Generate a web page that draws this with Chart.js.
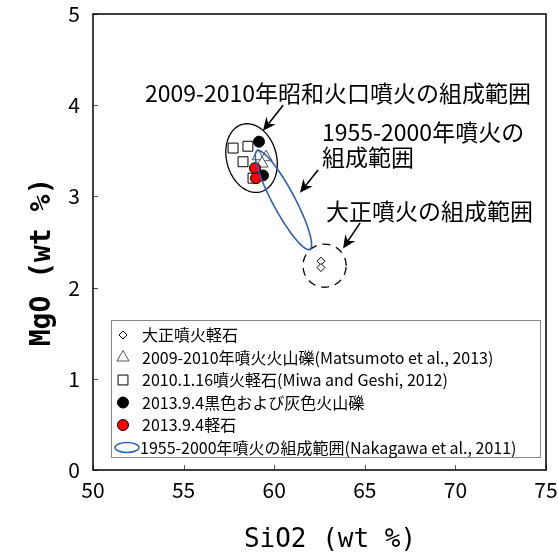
<!DOCTYPE html>
<html>
<head>
<meta charset="utf-8">
<script src="https://cdn.jsdelivr.net/npm/chart.js@4.4.0/dist/chart.umd.min.js"></script>
<style>
  html, body { margin: 0; padding: 0; background: #fff; }
</style>
</head>
<body>
<canvas id="chart" width="558" height="559"></canvas>
<script>
// SiO2 / MgO (wt %)
const taishoPumice = [{x: 62.58, y: 2.29}, {x: 62.58, y: 2.22}];
const scoria2009 = [{x: 59.11, y: 3.44}, {x: 59.55, y: 3.43}, {x: 59.33, y: 3.36}];
const pumice2010 = [{x: 57.73, y: 3.53}, {x: 58.55, y: 3.55}, {x: 58.28, y: 3.38}, {x: 58.83, y: 3.20}];
const scoria2013 = [{x: 59.16, y: 3.60}, {x: 59.38, y: 3.23}];
const pumice2013 = [{x: 58.94, y: 3.31}, {x: 59.00, y: 3.20}];

const xTicks = [50, 55, 60, 65, 70, 75];
const yTicks = [0, 1, 2, 3, 4, 5];

// composition ranges: centre and two half-axes, in data units
const showaRange = {cx: 58.75, cy: 3.42, a: [-0.50, 0.37], b: [1.33, 0.07]};
const range1955 = {cx: 60.51, cy: 2.96, a: [1.46, -0.54], b: [0.53, 0.06]};
const taishoRange = {cx: 62.78, cy: 2.24, a: [1.19, 0], b: [0, 0.236]};

const legendLabels = [
    '大正噴火軽石',
    '2009-2010年噴火火山礫(Matsumoto et al., 2013)',
    '2010.1.16噴火軽石(Miwa and Geshi, 2012)',
    '2013.9.4黒色および灰色火山礫',
    '2013.9.4軽石',
    '1955-2000年噴火の組成範囲(Nakagawa et al., 2011)'
];

const jp = '"Noto Sans CJK JP", sans-serif';
const blue = '#2f5fb3';

function ellipsePath(ctx, x, y, r) {
    const cx = x.getPixelForValue(r.cx), cy = y.getPixelForValue(r.cy);
    const ax = x.getPixelForValue(r.cx + r.a[0]) - cx, ay = y.getPixelForValue(r.cy + r.a[1]) - cy;
    const bx = x.getPixelForValue(r.cx + r.b[0]) - cx, by = y.getPixelForValue(r.cy + r.b[1]) - cy;
    ctx.beginPath();
    for (let i = 0; i <= 120; i++) {
        const t = i / 120 * Math.PI * 2;
        const px = cx + Math.cos(t) * ax + Math.sin(t) * bx;
        const py = cy + Math.cos(t) * ay + Math.sin(t) * by;
        if (i === 0) ctx.moveTo(px, py); else ctx.lineTo(px, py);
    }
    ctx.closePath();
}

function arrow(ctx, x1, y1, x2, y2) {
    const ang = Math.atan2(y2 - y1, x2 - x1);
    const len = 13, half = 6, notch = 9;
    ctx.beginPath();
    ctx.moveTo(x1, y1);
    ctx.lineTo(x2 - Math.cos(ang) * notch, y2 - Math.sin(ang) * notch);
    ctx.stroke();
    ctx.beginPath();
    ctx.moveTo(x2, y2);
    ctx.lineTo(x2 - Math.cos(ang) * len - Math.sin(ang) * half, y2 - Math.sin(ang) * len + Math.cos(ang) * half);
    ctx.lineTo(x2 - Math.cos(ang) * notch, y2 - Math.sin(ang) * notch);
    ctx.lineTo(x2 - Math.cos(ang) * len + Math.sin(ang) * half, y2 - Math.sin(ang) * len - Math.cos(ang) * half);
    ctx.closePath();
    ctx.fill();
}

const overlay = {
    id: 'overlay',
    afterDatasetsDraw(chart) {
        const {ctx, chartArea: area, scales: {x, y}} = chart;
        ctx.save();

        // inward tick marks
        ctx.strokeStyle = '#555';
        ctx.lineWidth = 1;
        x.ticks.forEach(t => {
            const p = Math.round(x.getPixelForValue(t.value)) + 0.5;
            ctx.beginPath(); ctx.moveTo(p, area.bottom); ctx.lineTo(p, area.bottom - 5); ctx.stroke();
        });
        y.ticks.forEach(t => {
            const p = Math.round(y.getPixelForValue(t.value)) + 0.5;
            ctx.beginPath(); ctx.moveTo(area.left, p); ctx.lineTo(area.left + 5, p); ctx.stroke();
        });

        // composition ranges
        ctx.lineWidth = 1.3;
        ctx.strokeStyle = '#000';
        ellipsePath(ctx, x, y, showaRange); ctx.stroke();
        ctx.setLineDash([8, 6]);
        ellipsePath(ctx, x, y, taishoRange); ctx.stroke();
        ctx.setLineDash([]);
        ctx.strokeStyle = blue;
        ctx.lineWidth = 1.6;
        ellipsePath(ctx, x, y, range1955); ctx.stroke();

        // arrows
        ctx.strokeStyle = '#000';
        ctx.fillStyle = '#000';
        ctx.lineWidth = 1.6;
        const P = (a, b) => [x.getPixelForValue(a), y.getPixelForValue(b)];
        arrow(ctx, ...P(60.49, 4.00), ...P(59.38, 3.72));
        arrow(ctx, ...P(62.42, 3.29), ...P(61.42, 3.04));
        arrow(ctx, ...P(64.74, 2.71), ...P(63.80, 2.43));

        // annotations
        ctx.font = '23px ' + jp;
        ctx.textBaseline = 'middle';
        ctx.textAlign = 'left';
        ctx.fillText('2009-2010年昭和火口噴火の組成範囲', ...P(52.87, 4.13));
        ctx.fillText('1955-2000年噴火の', ...P(62.64, 3.70));
        ctx.fillText('組成範囲', ...P(62.64, 3.43));
        ctx.fillText('大正噴火の組成範囲', ...P(62.86, 2.84));

        // legend box
        const lx = area.left + 18, ly = area.top + 306, lw = 429, lh = 137;
        ctx.fillStyle = '#fff';
        ctx.fillRect(lx, ly, lw, lh);
        ctx.strokeStyle = '#888';
        ctx.lineWidth = 1;
        ctx.strokeRect(lx + 0.5, ly + 0.5, lw, lh);
        ctx.font = '16px ' + jp;
        chart.data.datasets.forEach((ds, i) => {
            const ry = ly + 15 + i * 22.5;
            ctx.fillStyle = ds.backgroundColor;
            ctx.strokeStyle = ds.borderColor;
            ctx.lineWidth = ds.borderWidth;
            Chart.helpers.drawPoint(ctx, {pointStyle: ds.pointStyle, radius: ds.pointRadius, rotation: 0, borderWidth: ds.borderWidth}, lx + 12, ry);
            ctx.fillStyle = '#000';
            ctx.fillText(legendLabels[i], lx + 31, ry);
        });
        const ry = ly + 15 + 5 * 22.5;
        ctx.strokeStyle = blue;
        ctx.lineWidth = 1.5;
        ctx.beginPath();
        ctx.ellipse(lx + 16, ry, 12, 5, 0, 0, Math.PI * 2);
        ctx.stroke();
        ctx.fillStyle = '#000';
        ctx.fillText(legendLabels[5], lx + 29, ry);

        // frame
        ctx.strokeStyle = '#000';
        ctx.lineWidth = 1.5;
        ctx.strokeRect(area.left, area.top, area.right - area.left, area.bottom - area.top);

        // axis titles
        ctx.fillStyle = '#000';
        ctx.textAlign = 'center';
        ctx.font = '26px "DejaVu Sans Mono", monospace';
        ctx.fillText('SiO2 (wt %)', 330, 540);
        ctx.translate(43, 262);
        ctx.rotate(-Math.PI / 2);
        ctx.font = 'bold 28px "DejaVu Sans Mono", monospace';
        ctx.fillText('MgO (wt %)', 0, 0);
        ctx.restore();
    }
};

const hiddenGrid = len => ({display: true, drawOnChartArea: false, drawTicks: true, tickLength: len, color: 'rgba(0,0,0,0)'});

new Chart(document.getElementById('chart').getContext('2d'), {
    type: 'scatter',
    data: {
        datasets: [
            {label: legendLabels[0], data: taishoPumice, pointStyle: 'rectRot', pointRadius: 4, backgroundColor: '#fff', borderColor: '#000', borderWidth: 1, order: 4},
            {label: legendLabels[1], data: scoria2009, pointStyle: 'triangle', pointRadius: 7, backgroundColor: '#fff', borderColor: '#555', borderWidth: 1, order: 2},
            {label: legendLabels[2], data: pumice2010, pointStyle: 'rect', pointRadius: 7, backgroundColor: '#fff', borderColor: '#000', borderWidth: 1, order: 3},
            {label: legendLabels[3], data: scoria2013, pointStyle: 'circle', pointRadius: 5.5, backgroundColor: '#000', borderColor: '#000', borderWidth: 1, order: 1},
            {label: legendLabels[4], data: pumice2013, pointStyle: 'circle', pointRadius: 5.5, backgroundColor: '#f00', borderColor: '#000', borderWidth: 1, order: 0}
        ]
    },
    options: {
        responsive: false,
        animation: false,
        events: [],
        layout: {padding: {top: 14, right: 12, left: 0, bottom: 0}},
        plugins: {legend: {display: false}, tooltip: {enabled: false}},
        scales: {
            x: {
                type: 'linear', min: xTicks[0], max: xTicks[xTicks.length - 1],
                afterFit: s => { s.height = 89; },
                afterBuildTicks: s => { s.ticks = xTicks.map(v => ({value: v})); },
                grid: hiddenGrid(7),
                border: {display: false},
                ticks: {padding: 0, color: '#000', font: {family: jp, size: 21}}
            },
            y: {
                min: yTicks[0], max: yTicks[yTicks.length - 1],
                afterFit: s => { s.width = 93; },
                afterBuildTicks: s => { s.ticks = yTicks.map(v => ({value: v})); },
                grid: hiddenGrid(13),
                border: {display: false},
                ticks: {padding: 0, color: '#000', font: {family: jp, size: 21}}
            }
        }
    },
    plugins: [overlay]
});
</script>
</body>
</html>
